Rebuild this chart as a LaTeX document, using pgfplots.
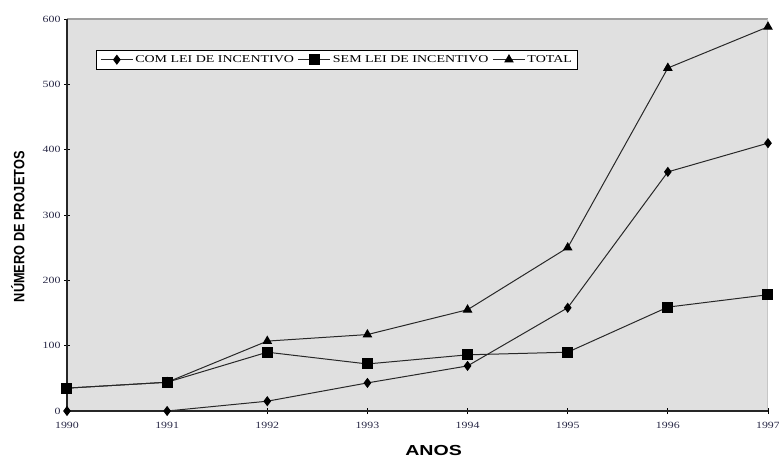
\documentclass[border=0pt]{standalone}
\usepackage{fontspec}
\setmainfont{Liberation Serif}
\newfontfamily\tickfont[FakeStretch=1.25]{Liberation Serif}
\newfontfamily\legfont[FakeStretch=1.33]{Liberation Serif}
\newfontfamily\ylabfont[FakeStretch=0.85]{Liberation Sans}
\newfontfamily\xlabfont[FakeStretch=1.35]{Liberation Sans}
\usepackage{pgfplots}
\pgfplotsset{compat=1.18}
\definecolor{bggray}{RGB}{224,224,224}
\definecolor{linec}{RGB}{40,40,40}
\definecolor{tickc}{RGB}{40,40,70}
\begin{document}
\begin{tikzpicture}
\useasboundingbox (-67bp,-48bp) rectangle (712bp,411bp);
\begin{axis}[
  at={(0,0)}, anchor=south west,
  scale only axis, width=701bp, height=392bp,
  xmin=1990, xmax=1997, ymin=0, ymax=600,
  xtick={1990,1991,...,1997}, ytick={0,100,...,600},
  /pgf/number format/assume math mode=true,
  x tick label style={/pgf/number format/1000 sep={}, font=\tickfont\fontsize{9.5bp}{10bp}\selectfont, text=tickc, yshift=-5bp},
  y tick label style={font=\tickfont\fontsize{9.5bp}{10bp}\selectfont, text=tickc},
  tick align=center, major tick length=6bp,
  xtick pos=bottom, ytick pos=left,
  tick style={black, line width=0.8bp},
  axis line style={draw=none},
  axis background/.style={fill=bggray},
  clip=false,
  xlabel={\xlabfont\bfseries\fontsize{14.5bp}{16bp}\selectfont ANOS},
  xlabel style={at={(axis description cs:0.523,-0.102)}, anchor=center},
  ylabel={\ylabfont\bfseries\fontsize{15bp}{16bp}\selectfont NÚMERO DE PROJETOS},
  ylabel style={at={(axis description cs:-0.07,0.47)}, anchor=center},
  legend columns=3,
  legend style={at={(axis description cs:0.042,0.922)}, anchor=north west,
    fill=white, draw=black, line width=0.8bp, inner sep=3.5bp,
    font=\legfont\fontsize{10.5bp}{11bp}\selectfont,
    /tikz/every even column/.append style={column sep=2bp}},
  legend image code/.code={\draw[mark repeat=2,mark phase=2,line width=1bp] plot coordinates {(0bp,0bp) (16bp,0bp) (32bp,0bp)};},
  every axis plot/.append style={linec, line width=1bp, mark options={fill=black, draw=black, solid}},
]
\draw[gray!75, line width=1.6bp] (rel axis cs:0,1) -- (rel axis cs:1,1);
\draw[gray!45, line width=1bp] (rel axis cs:1,0) -- (rel axis cs:1,1);
\draw[black!85, line width=1.6bp] (rel axis cs:0,0) -- (rel axis cs:0,1);
\draw[black!85, line width=1.6bp] (rel axis cs:0,0) -- (rel axis cs:1,0);
\addplot[mark=diamond*, mark size=4.3bp] coordinates {(1990,0)(1991,0)(1992,15)(1993,43)(1994,69)(1995,158)(1996,366)(1997,410)};
\addlegendentry{COM LEI DE INCENTIVO}
\addplot[mark=square*, mark size=5bp] coordinates {(1990,35)(1991,44)(1992,90)(1993,72)(1994,86)(1995,90)(1996,159)(1997,178)};
\addlegendentry{SEM LEI DE INCENTIVO}
\addplot[mark=triangle*, mark size=4.6bp] coordinates {(1990,35)(1991,44)(1992,107)(1993,117)(1994,155)(1995,250)(1996,525)(1997,588)};
\addlegendentry{TOTAL}
\end{axis}
\end{tikzpicture}
\end{document}
